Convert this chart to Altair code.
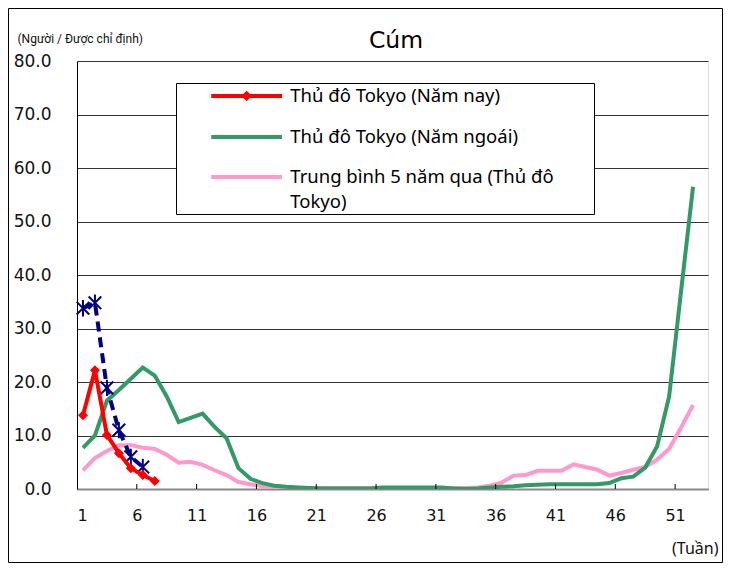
import altair as alt
import pandas as pd

weeks = list(range(1, 53))
tick_labels = [1, 6, 11, 16, 21, 26, 31, 36, 41, 46, 51]
y_ticks = [0, 10, 20, 30, 40, 50, 60, 70, 80]
chart_title = "Cúm"

series_names = [
    "Thủ đô Tokyo (Năm nay)",
    "Thủ đô Tokyo (Năm ngoái)",
    "Trung bình 5 năm qua (Thủ đô Tokyo)",
]

this_year = [13.8, 22.2, 10.1, 6.7, 3.9, 2.6, 1.5]
blue_series = [33.8, 34.8, 18.9, 11.0, 6.0, 4.1]
last_year = [7.7, 10.0, 16.5, 18.5, 20.6, 22.7, 21.2, 17.3, 12.5, 13.3,
             14.1, 11.6, 9.5, 3.9, 1.9, 1.1, 0.6, 0.4, 0.3, 0.2,
             0.1, 0.1, 0.1, 0.1, 0.1, 0.3, 0.3, 0.3, 0.3, 0.3,
             0.3, 0.1, 0.0, 0.1, 0.3, 0.4, 0.5, 0.7, 0.8, 0.9,
             0.9, 0.9, 0.9, 0.9, 1.1, 2.0, 2.3, 4.0, 8.0, 17.3,
             37.0, 56.5]
avg5 = [3.5, 5.8, 7.1, 8.2, 8.2, 7.7, 7.5, 6.4, 4.9, 5.1,
        4.5, 3.5, 2.6, 1.3, 0.9, 0.5, 0.3, 0.2, 0.2, 0.2,
        0.2, 0.2, 0.2, 0.2, 0.2, 0.2, 0.2, 0.2, 0.2, 0.2,
        0.2, 0.2, 0.2,
        0.3, 0.6, 1.2, 2.5, 2.6, 3.4, 3.4, 3.4, 4.6, 4.1,
        3.6, 2.5, 3.0, 3.6, 4.1, 5.5, 7.5, 11.5, 15.7]

colors = ["#FF0000", "#339966", "#FF99CC"]
blue_color = "#000080"

df_red = pd.DataFrame({"week": weeks[:len(this_year)], "value": this_year})
df_blue = pd.DataFrame({"week": weeks[:len(blue_series)], "value": blue_series})
df_green = pd.DataFrame({"week": weeks, "value": last_year})
df_pink = pd.DataFrame({"week": weeks, "value": avg5})
df_all = pd.concat([
    df_red.assign(series=series_names[0]),
    df_green.assign(series=series_names[1]),
    df_pink.assign(series=series_names[2]),
])
df_ticks = pd.DataFrame({"t": [v - 0.5 for v in tick_labels[1:]]})
df_one = pd.DataFrame({"label": [chart_title]})

x_enc = alt.X(
    "week:Q",
    scale=alt.Scale(domain=[0.5, 53.25], nice=False, zero=False),
    axis=alt.Axis(
        values=[v - 0.5 for v in tick_labels],
        labelExpr="format(datum.value + 0.5, 'd')",
        grid=False, ticks=False, domainColor="#888888", domainWidth=2,
        labelPadding=18, labelFontSize=16, labelFont="DejaVu Sans", labelColor="#111111",
        title="(Tuần)", titleX=641, titleY=59, titleAlign="right", titleBaseline="middle",
        titleFontSize=16, titleFontWeight="normal", titleFont="Noto Sans", titleColor="#111111",
    ),
)
y_enc = alt.Y(
    "value:Q",
    scale=alt.Scale(domain=[0, 80], nice=False),
    axis=alt.Axis(
        values=y_ticks, format=".1f", grid=True, gridColor="#333333", gridWidth=1,
        ticks=False, domainColor="#000000", domainWidth=1,
        labelPadding=26, labelFontSize=17, labelFont="DejaVu Sans", labelColor="#111111",
        title="(Người / Được chỉ định)", titleAngle=0, titleX=-60, titleY=-23,
        titleAlign="left", titleBaseline="middle", titleFontSize=12,
        titleFontWeight="normal", titleFont="Roboto", titleColor="#111111",
    ),
)

frame = alt.Chart(df_one).mark_rect(filled=False, stroke="black", strokeWidth=1).encode(
    x=alt.value(-68.5), x2=alt.value(645.5), y=alt.value(-52.5), y2=alt.value(501.5)
)
title_text = alt.Chart(df_one).mark_text(
    font="DejaVu Sans", fontSize=23.5, color="black", align="center", baseline="alphabetic"
).encode(x=alt.value(319), y=alt.value(-13), text="label:N")

ticks = alt.Chart(df_ticks).mark_rule(color="black", strokeWidth=1).encode(
    x="t:Q", y=alt.value(428), y2=alt.value(423)
)

pink = alt.Chart(df_pink).mark_line(color=colors[2], strokeWidth=4, clip=True).encode(x=x_enc, y=y_enc)
green = alt.Chart(df_green).mark_line(color=colors[1], strokeWidth=4, clip=True).encode(x=x_enc, y=y_enc)
blue = alt.Chart(df_blue).mark_line(color=blue_color, strokeWidth=4, strokeDash=[10, 6]).encode(x=x_enc, y=y_enc)
star = "M-1,-1L1,1M-1,1L1,-1M0,-1.3L0,1.3"
blue_pts = alt.Chart(df_blue).mark_point(shape=star, filled=False, color=blue_color,
                                         strokeWidth=2, size=160, opacity=1).encode(x=x_enc, y=y_enc)
red = alt.Chart(df_red).mark_line(color=colors[0], strokeWidth=4).encode(x=x_enc, y=y_enc)
red_pts = alt.Chart(df_red).mark_point(shape="diamond", filled=True, color=colors[0],
                                       size=100, opacity=1).encode(x=x_enc, y=y_enc)

line_path = "M-4,0L4,0"
diamond_line_path = "M-4,0L4,0M0,-0.28L0.28,0L0,0.28L-0.28,0Z"
pad_chars = "\u00a0\u00a0" + "\u2800" * 2
legend = alt.Legend(
    title=None, orient="none", legendX=99, legendY=22, direction="vertical",
    strokeColor="black", fillColor="white", padding=2,
    symbolSize=313, symbolStrokeWidth=4, symbolOffset=57.6,
    labelOffset=32.7, labelFont="Noto Sans", labelFontSize=18.5, labelColor="black",
    labelLimit=600, rowPadding=19,
    labelExpr="datum.label == '" + series_names[2] + "' ? ['Trung bình 5 năm qua (Thủ đô" + pad_chars
              + "', 'Tokyo)'] : datum.label",
)
legend_layer = alt.Chart(df_all).transform_filter("false").mark_point(
    filled=False, strokeWidth=4, opacity=1
).encode(
    x=x_enc, y=y_enc,
    color=alt.Color("series:N", scale=alt.Scale(domain=series_names, range=colors), legend=legend),
    shape=alt.Shape("series:N", scale=alt.Scale(domain=series_names,
                                                range=[diamond_line_path, line_path, line_path]),
                    legend=legend),
)

chart = alt.layer(frame, title_text, pink, green, blue, blue_pts, red, red_pts, ticks,
                  legend_layer).properties(
    width=631, height=428,
    autosize=alt.AutoSizeParams(type="none"),
    padding={"left": 69, "top": 53, "right": 15, "bottom": 74},
).configure_view(stroke=None).configure(
    background="white", style={"guide-label": {"lineHeight": 25}}
)

chart.save("out.html", embed_options={"renderer": "svg", "actions": False})
